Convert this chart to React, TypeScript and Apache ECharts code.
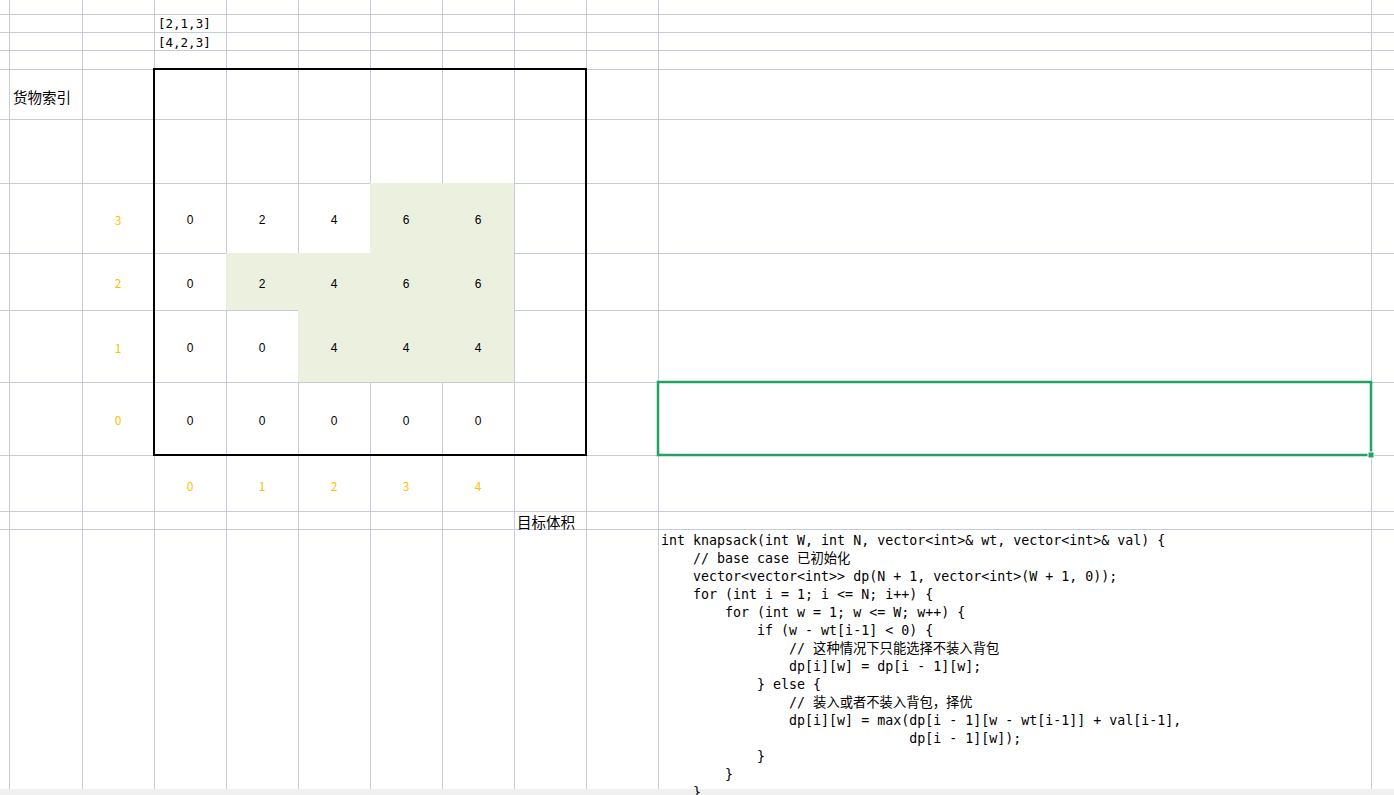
import React, { useEffect, useRef } from "react";
import * as echarts from "echarts";

// dp 表格: 行 = 货物索引, 列 = 目标体积
const rowLabels = ["0", "1", "2", "3"];
const colLabels = ["0", "1", "2", "3", "4"];
const dpValues = [
  [0, 0, 0, 0, 0],
  [0, 0, 4, 4, 4],
  [0, 2, 4, 6, 6],
  [0, 2, 4, 6, 6],
];
const highlighted = [
  [0, 0, 0, 0, 0],
  [0, 0, 1, 1, 1],
  [0, 1, 1, 1, 1],
  [0, 0, 0, 1, 1],
];
const wtText = "[2,1,3]";
const valText = "[4,2,3]";
const codeLines = [
  "int knapsack(int W, int N, vector<int>& wt, vector<int>& val) {",
  "    // base case 已初始化",
  "    vector<vector<int>> dp(N + 1, vector<int>(W + 1, 0));",
  "    for (int i = 1; i <= N; i++) {",
  "        for (int w = 1; w <= W; w++) {",
  "            if (w - wt[i-1] < 0) {",
  "                // 这种情况下只能选择不装入背包",
  "                dp[i][w] = dp[i - 1][w];",
  "            } else {",
  "                // 装入或者不装入背包，择优",
  "                dp[i][w] = max(dp[i - 1][w - wt[i-1]] + val[i-1],",
  "                               dp[i - 1][w]);",
  "            }",
  "        }",
  "    }",
];

// layout of the sheet (pixels)
const colLines = [9, 82, 154, 226, 298, 370, 442, 514, 586, 658, 1371];
const rowLines = [14, 32, 50, 69, 119, 183, 253, 310, 382, 455, 511, 529];
// pixel edges of table rows, bottom (row 0) first
const rowEdges = [455, 382, 310, 253, 183];

const App = () => {
  const ref = useRef<HTMLDivElement>(null);

  useEffect(() => {
    const chart = echarts.init(ref.current, null, { renderer: "svg" });
    const grid = "#c6cbd8";
    const graphics: any[] = [];
    colLines.forEach((x) =>
      graphics.push({ type: "line", shape: { x1: x + 0.5, y1: 0, x2: x + 0.5, y2: 790 }, style: { stroke: grid, lineWidth: 1 }, z: 1 })
    );
    rowLines.forEach((y) =>
      graphics.push({ type: "line", shape: { x1: 0, y1: y + 0.5, x2: 1394, y2: y + 0.5 }, style: { stroke: grid, lineWidth: 1 }, z: 1 })
    );
    graphics.push({ type: "rect", shape: { x: 0, y: 789, width: 1394, height: 6 }, style: { fill: "#f0f0f0" }, z: 1 });
    const txt = (x: number, y: number, text: string, extra: any = {}) =>
      graphics.push({
        type: "text",
        x,
        y,
        z: 20,
        style: { text, fill: "#000", fontSize: 13, fontFamily: "'Noto Sans CJK SC', sans-serif", textVerticalAlign: "middle", ...extra },
      });
    txt(158, 23, wtText, { fontFamily: "'DejaVu Sans Mono', monospace", fontSize: 12.5 });
    txt(158, 42, valText, { fontFamily: "'DejaVu Sans Mono', monospace", fontSize: 12.5 });
    txt(13, 96, "货物索引", { fontSize: 14.5 });
    txt(517, 521, "目标体积", { fontSize: 14.5 });
    rowLabels.forEach((l, i) =>
      txt(118, (rowEdges[i] + rowEdges[i + 1]) / 2 + 1, l, { fill: "#ffc000", textAlign: "center", fontSize: 12 })
    );
    colLabels.forEach((l, i) => txt(190 + i * 72, 485, l, { fill: "#ffc000", textAlign: "center", fontSize: 12 }));
    codeLines.forEach((l, i) =>
      txt(661, 540 + i * 18, l, { fontFamily: "'DejaVu Sans Mono', 'Noto Sans CJK SC', monospace", fontSize: 13.3 })
    );
    // outer table border
    graphics.push({ type: "rect", shape: { x: 154, y: 69, width: 432, height: 386 }, style: { fill: "none", stroke: "#000", lineWidth: 2 }, z: 30 });
    // selected cell
    graphics.push({ type: "rect", shape: { x: 658, y: 382, width: 713, height: 73 }, style: { fill: "none", stroke: "#21a366", lineWidth: 2.5 }, z: 30 });
    graphics.push({ type: "rect", shape: { x: 1368, y: 452, width: 6, height: 6 }, style: { fill: "#21a366", stroke: "#fff", lineWidth: 1 }, z: 31 });

    const data: any[] = [];
    dpValues.forEach((row, r) => row.forEach((v, c) => data.push([c, r, v, highlighted[r][c]])));

    chart.setOption({
      animation: false,
      grid: { left: 154, top: 183, width: 360, height: 272 },
      xAxis: { type: "value", min: 0, max: 5, show: false },
      yAxis: { type: "value", min: 0, max: 4, show: false },
      graphic: graphics,
      series: [
        {
          type: "custom",
          data,
          z: 5,
          renderItem: (params: any, api: any) => {
            const c = api.value(0);
            const r = api.value(1);
            const x0 = api.coord([c, 0])[0];
            const w = api.size([1, 0])[0];
            const y1 = rowEdges[r + 1];
            const y0 = rowEdges[r];
            return {
              type: "group",
              children: [
                {
                  type: "rect",
                  shape: { x: x0, y: y1, width: w, height: y0 - y1 },
                  style: { fill: api.value(3) ? "#ebf1de" : "rgba(0,0,0,0)" },
                },
                {
                  type: "text",
                  x: x0 + w / 2,
                  y: (y0 + y1) / 2 + 2,
                  style: { text: String(api.value(2)), fill: "#000", fontSize: 12, fontFamily: "sans-serif", textAlign: "center", textVerticalAlign: "middle" },
                },
              ],
            };
          },
        },
      ],
    });
    return () => chart.dispose();
  }, []);

  return <div ref={ref} style={{ position: "fixed", left: 0, top: 0, width: 1394, height: 795, background: "#fff" }} />;
};

export default App;
